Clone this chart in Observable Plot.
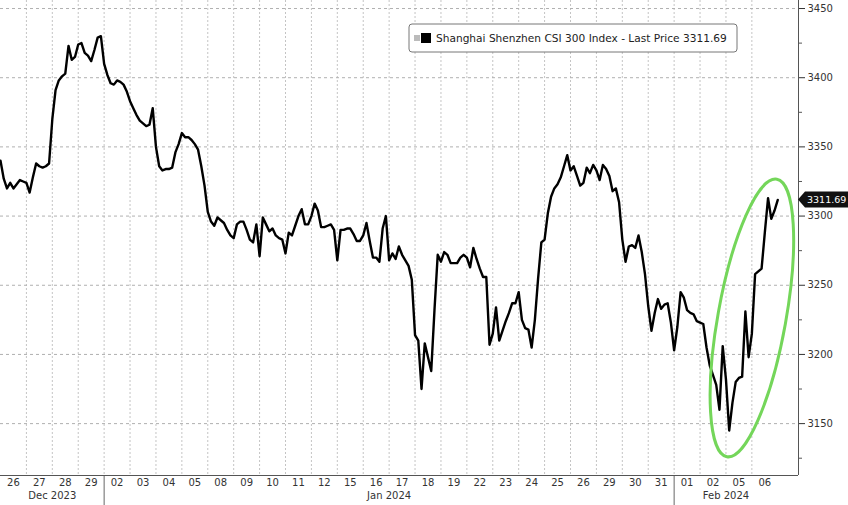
<!DOCTYPE html>
<html><head><meta charset="utf-8">
<script src="https://cdn.jsdelivr.net/npm/d3@7"></script>
<script src="https://cdn.jsdelivr.net/npm/@observablehq/plot@0.6"></script>
<style>body{margin:0;background:#fff}</style>
</head><body><div id="chart"></div>
<script>
// Trading sessions shown on the x axis
const dayLabels = ["26","27","28","29","02","03","04","05","08","09","10","11","12","15","16","17","18","19","22","23","24","25","26","29","30","31","01","02","05","06"];
const monthLabels = ["Dec 2023", "Jan 2024", "Feb 2024"];
const monthStartDay = [0, 4, 26];
const monthEndDay = [4, 26, 30];
const yTicks = [3150, 3200, 3250, 3300, 3350, 3400, 3450];
const yMinorTicks = [3125, 3175, 3225, 3275, 3325, 3375, 3425];
const lastPrice = 3311.69;
const seriesName = "Shanghai Shenzhen CSI 300 Index - Last Price";
// CSI 300 intraday, 8 readings per session, plus the final close
const prices = [
  3340,3327,3320,3324,3320,3323,3326,3325,
  3324,3317,3328,3338,3336,3335,3336,3338,
  3370,3391,3398,3401,3403,3423,3413,3415,
  3424,3425,3418,3416,3412,3420,3429,3430,
  3410,3402,3396,3395,3398,3397,3395,3390,
  3383,3378,3373,3369,3367,3365,3366,3378,
  3350,3336,3333,3334,3334,3335,3346,3352,
  3360,3357,3357,3355,3352,3348,3336,3322,
  3303,3296,3293,3299,3297,3295,3290,3286,
  3284,3294,3296,3296,3290,3283,3281,3294,
  3271,3299,3294,3289,3291,3286,3284,3283,
  3273,3288,3286,3293,3300,3305,3294,3294,
  3300,3309,3304,3292,3292,3293,3294,3290,
  3268,3290,3290,3291,3291,3287,3282,3282,
  3286,3295,3282,3270,3270,3267,3291,3300,
  3268,3273,3269,3278,3272,3268,3264,3254,
  3214,3210,3175,3208,3198,3188,3232,3272,
  3267,3274,3272,3266,3266,3266,3270,3272,
  3270,3263,3277,3269,3262,3256,3256,3207,
  3215,3234,3210,3217,3224,3230,3237,3237,
  3245,3225,3219,3218,3205,3225,3255,3281,
  3283,3302,3314,3320,3323,3328,3336,3344,
  3333,3336,3329,3322,3324,3335,3331,3337,
  3333,3326,3337,3334,3329,3318,3320,3310,
  3283,3267,3278,3279,3277,3286,3274,3258,
  3235,3217,3230,3240,3233,3236,3237,3223,
  3203,3220,3245,3241,3232,3230,3229,3224,
  3223,3222,3205,3192,3185,3178,3160,3206,
  3182,3145,3165,3180,3183,3184,3231,3198,
  3215,3258,3260,3262,3288,3313,3298,3304,
  lastPrice
];
const perDay = 8;
const series = prices.map((v, i) => ({t: i / perDay, v}));
const months = monthLabels.map((m, i) => ({label: m, mid: (monthStartDay[i] + monthEndDay[i]) / 2}));
const days = dayLabels.map((d, i) => ({label: d, mid: i + 0.5}));
const xDomain = [0, 30.8];
const yDomain = [3112.5, 3455.8];
// highlight ellipse (annotation) centre in data units
const highlight = {t: 29.02, v: 3226};

const plot = Plot.plot({
  width: 848, height: 505,
  marginLeft: 0, marginRight: 50, marginTop: 0, marginBottom: 30,
  style: {fontFamily: "DejaVu Sans", fontSize: "10px", color: "#333", background: "#fff"},
  x: {domain: xDomain, axis: null},
  y: {domain: yDomain, axis: null},
  marks: [
    Plot.ruleX(d3.range(1, 30), {stroke: "#c4c4c4", strokeDasharray: "2,2"}),
    Plot.ruleY(yTicks, {stroke: "#b0b0b0", strokeDasharray: "3,3"}),
    Plot.ruleX(monthStartDay.slice(1), {stroke: "#666", insetTop: 475, insetBottom: -30}),
    Plot.ruleY([yDomain[0]], {stroke: "#555"}),
    Plot.ruleX([xDomain[1]], {stroke: "#555"}),
    Plot.axisY({ticks: yTicks, anchor: "right", tickSize: 6, tickPadding: 3, tickFormat: d => String(d), label: null, stroke: "#333", fill: "#333", fontSize: 10}),
    Plot.axisY({ticks: yMinorTicks, anchor: "right", tickSize: 3, tickFormat: () => "", label: null, stroke: "#555"}),
    Plot.text(days, {x: "mid", text: "label", frameAnchor: "bottom", dy: 10, fill: "#333"}),
    Plot.text(months, {x: "mid", text: "label", frameAnchor: "bottom", dy: 23, fill: "#333"}),
    Plot.line(series, {x: "t", y: "v", stroke: "#000", strokeWidth: 2.4, strokeLinejoin: "round"})
  ]
});
document.getElementById("chart").appendChild(plot);

const svg = d3.select(plot);
const xs = plot.scale("x"), ys = plot.scale("y");
// green highlight ellipse
svg.append("ellipse")
  .attr("cx", 0).attr("cy", 0).attr("rx", 34).attr("ry", 141)
  .attr("transform", `translate(${xs.apply(highlight.t)},${ys.apply(highlight.v)}) rotate(10.2)`)
  .attr("fill", "none").attr("stroke", "#74d65a").attr("stroke-width", 3);
// last price tag
const yp = ys.apply(lastPrice), xa = xs.apply(xDomain[1]);
svg.append("path")
  .attr("d", `M${xa},${yp} L${xa + 7},${yp - 8} L848,${yp - 8} L848,${yp + 8} L${xa + 7},${yp + 8} Z`)
  .attr("fill", "#111");
svg.append("text").attr("x", xa + 9).attr("y", yp).attr("dy", "0.35em").attr("text-anchor", "start")
  .attr("fill", "#fff").attr("font-size", 9.5).text(lastPrice.toFixed(2));
// legend
const lg = svg.append("g");
lg.append("rect").attr("x", 409).attr("y", 24).attr("width", 328).attr("height", 28).attr("rx", 3)
  .attr("fill", "#fff").attr("stroke", "#777");
lg.append("rect").attr("x", 414).attr("y", 35).attr("width", 6).attr("height", 6).attr("fill", "#bbb");
lg.append("rect").attr("x", 421).attr("y", 33).attr("width", 10).attr("height", 10).attr("fill", "#000");
lg.append("text").attr("x", 436).attr("y", 38).attr("dy", "0.35em").attr("text-anchor", "start").attr("fill", "#222")
  .attr("font-size", 10.6).text(`${seriesName} ${lastPrice.toFixed(2)}`);
</script></body></html>
